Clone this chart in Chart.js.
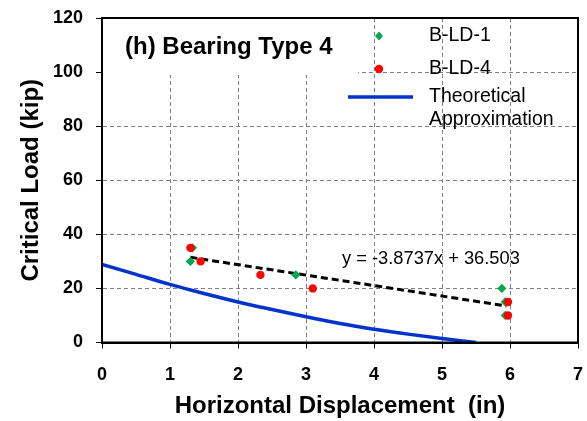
<!DOCTYPE html>
<html lang="en">
<head>
<meta charset="UTF-8">
<title>Bearing Type 4</title>
<script src="https://cdn.jsdelivr.net/npm/chart.js"></script>
<style>
  body, html { margin: 0; background: #fff; }
  canvas { display: block; }
</style>
</head>
<body>
<canvas id="chart" width="587" height="421"></canvas>
<script>
  // data
  const ld1X = [1.33, 1.30, 2.85, 5.88, 5.93, 5.93];
  const ld1Y = [35, 30, 25, 20, 15, 10];
  const ld4X = [1.30, 1.45, 2.33, 3.10, 5.97, 5.97];
  const ld4Y = [35, 30, 25, 20, 15, 10];
  const theoX = [0, 0.5, 1, 1.5, 2, 2.5, 3, 3.5, 4, 4.5, 5, 5.5];
  const theoY = [28.9, 25.2, 21.5, 18.1, 15.0, 12.2, 9.5, 7.0, 4.9, 3.1, 1.5, 0];
  const trendX = [1.30, 5.95];
  const trendY = [31.5, 13.5];
  const trendLabel = 'y = -3.8737x + 36.503';
  const xTicks = [0, 1, 2, 3, 4, 5, 6, 7];
  const yTicks = [0, 20, 40, 60, 80, 100, 120];

  const FONT = '"Liberation Sans", Arial, sans-serif';
  const pts = (xs, ys) => xs.map((x, i) => ({ x: x, y: ys[i] }));

  const extras = {
    id: 'extras',
    beforeDatasetsDraw(chart) {
      const { ctx, chartArea: a } = chart;
      // white box behind the panel title
      ctx.save();
      ctx.fillStyle = '#fff';
      ctx.fillRect(a.left + 1, a.top + 1, 255, 56);
      ctx.fillStyle = '#000';
      ctx.font = 'bold 24px ' + FONT;
      ctx.textBaseline = 'middle';
      ctx.fillText('(h) Bearing Type 4', 125, 47);
      ctx.restore();
    },
    afterDraw(chart) {
      const { ctx, chartArea: a } = chart;
      ctx.save();
      // plot frame
      ctx.strokeStyle = '#000';
      ctx.lineWidth = 2;
      ctx.strokeRect(a.left, a.top, a.right - a.left, a.bottom - a.top);

      // trendline equation
      ctx.fillStyle = '#000';
      ctx.font = '18.3px ' + FONT;
      ctx.textBaseline = 'middle';
      ctx.fillText(trendLabel, 342, 259);

      // legend
      ctx.font = '19.5px ' + FONT;
      ctx.fillStyle = '#00a650';
      ctx.beginPath();
      ctx.moveTo(379, 31.5); ctx.lineTo(383, 36); ctx.lineTo(379, 40.5); ctx.lineTo(375, 36);
      ctx.closePath(); ctx.fill();
      ctx.fillStyle = '#ff0000';
      ctx.beginPath(); ctx.arc(379, 69, 4.2, 0, Math.PI * 2); ctx.fill();
      ctx.strokeStyle = '#0033cc';
      ctx.lineWidth = 3.5;
      ctx.beginPath(); ctx.moveTo(348, 97); ctx.lineTo(413, 97); ctx.stroke();

      ctx.fillStyle = '#000';
      ctx.fillText('B-LD-1', 429, 36);
      ctx.fillText('B-LD-4', 429, 69);
      ctx.fillText('Theoretical', 429, 97);
      ctx.fillText('Approximation', 429, 120);
      ctx.restore();
    }
  };

  const gridOpts = {
    color: '#808080',
    lineWidth: 1,
    drawTicks: true,
    tickLength: 6,
    tickColor: '#000',
    tickWidth: 1,
    tickBorderDash: []
  };

  new Chart(document.getElementById('chart'), {
    type: 'scatter',
    data: {
      datasets: [
        {
          label: 'B-LD-4',
          data: pts(ld4X, ld4Y),
          pointStyle: 'circle',
          pointRadius: 4.2,
          backgroundColor: '#ff0000',
          borderColor: '#ff0000',
          borderWidth: 0,
          order: 1
        },
        {
          label: 'B-LD-1',
          data: pts(ld1X, ld1Y),
          pointStyle: 'rectRot',
          pointRadius: 4.6,
          backgroundColor: '#00a650',
          borderColor: '#00a650',
          borderWidth: 0,
          order: 2
        },
        {
          label: 'Trend',
          data: pts(trendX, trendY),
          showLine: true,
          borderColor: '#000',
          borderWidth: 3,
          borderDash: [7, 4],
          pointRadius: 0,
          order: 3
        },
        {
          label: 'Theoretical Approximation',
          data: pts(theoX, theoY),
          showLine: true,
          borderColor: '#0033cc',
          borderWidth: 3.5,
          pointRadius: 0,
          cubicInterpolationMode: 'monotone',
          order: 4
        }
      ]
    },
    options: {
      responsive: false,
      animation: false,
      devicePixelRatio: 1,
      layout: { padding: { top: 18, right: 9, left: 0, bottom: 0 } },
      plugins: { legend: { display: false }, tooltip: { enabled: false } },
      scales: {
        x: {
          type: 'linear',
          min: 0,
          max: 7,
          afterBuildTicks: s => { s.ticks = xTicks.map(v => ({ value: v })); },
          afterFit: s => { s.height = 78.5; s.paddingLeft = 0; s.paddingRight = 0; },
          ticks: { color: '#000', padding: 16, font: { family: FONT, size: 18, weight: 'bold' } },
          grid: gridOpts,
          border: { display: true, color: '#000', width: 2, dash: [4, 3] },
          title: {
            display: true,
            text: 'Horizontal Displacement  (in)',
            color: '#000',
            padding: { top: 0, bottom: 0 },
            font: { family: FONT, size: 24, weight: 'bold' }
          }
        },
        y: {
          type: 'linear',
          min: 0,
          max: 120,
          afterBuildTicks: s => { s.ticks = yTicks.map(v => ({ value: v })); },
          afterFit: s => { s.width = 102; s.paddingTop = 0; s.paddingBottom = 0; },
          ticks: { color: '#000', padding: 13, font: { family: FONT, size: 18, weight: 'bold' } },
          grid: gridOpts,
          border: { display: true, color: '#000', width: 2, dash: [4, 3] },
          title: {
            display: true,
            text: 'Critical Load (kip)',
            color: '#000',
            padding: { top: 17, bottom: 0 },
            font: { family: FONT, size: 24, weight: 'bold' }
          }
        }
      }
    },
    plugins: [extras]
  });
</script>
</body>
</html>
